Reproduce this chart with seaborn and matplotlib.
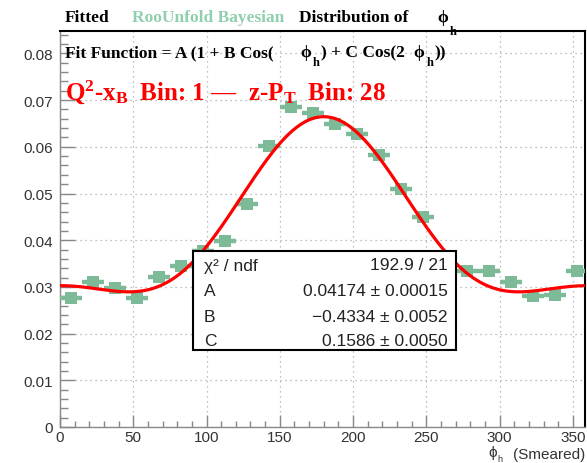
import numpy as np
import pandas as pd
import matplotlib
matplotlib.use("Agg")
import matplotlib.pyplot as plt
import seaborn as sns
from matplotlib.patches import Rectangle
from matplotlib.ticker import FixedLocator, MultipleLocator

# ---------------- data ----------------
phi_h = [7.5, 22.5, 37.5, 52.5, 67.5, 82.5, 97.5, 112.5, 127.5, 142.5, 157.5, 172.5,
         187.5, 202.5, 217.5, 232.5, 247.5, 262.5, 277.5, 292.5, 307.5, 322.5, 337.5, 352.5]
counts = [0.0276, 0.0310, 0.0298, 0.0276, 0.0321, 0.0345, 0.0377, 0.0398, 0.0477, 0.0602,
          0.0685, 0.0672, 0.0649, 0.0627, 0.0582, 0.0510, 0.0450, 0.0366, 0.0335, 0.0334,
          0.0310, 0.0281, 0.0283, 0.0334]
bin_half_width = 7.5
fit_A, fit_B, fit_C = 0.04174, -0.4334, 0.1586
stats_labels = ["\u03c7\u00b2 / ndf", "A", "B", "C"]
stats_values = ["192.9 / 21", "0.04174 \u00b1 0.00015", "\u22120.4334 \u00b1 0.0052", "0.1586 \u00b1 0.0050"]
x_ticks = [0, 50, 100, 150, 200, 250, 300, 350]
x_ticklabels = ["0", "50", "100", "150", "200", "250", "300", "350"]
y_ticks = [0, 0.01, 0.02, 0.03, 0.04, 0.05, 0.06, 0.07, 0.08]
y_ticklabels = ["0", "0.01", "0.02", "0.03", "0.04", "0.05", "0.06", "0.07", "0.08"]

df = pd.DataFrame({"phi": phi_h, "val": counts})
phi_fine = np.linspace(0, 360, 721)
fit_df = pd.DataFrame({"phi": phi_fine,
                       "fit": fit_A * (1 + fit_B * np.cos(np.radians(phi_fine))
                                       + fit_C * np.cos(2 * np.radians(phi_fine)))})

# ---------------- style ----------------
sns.set_theme(style="white")
plt.rcParams["font.family"] = ["Liberation Sans", "DejaVu Sans"]
plt.rcParams["mathtext.fontset"] = "custom"
plt.rcParams["mathtext.rm"] = "Liberation Serif:bold"
plt.rcParams["mathtext.it"] = "Liberation Serif:bold"
plt.rcParams["mathtext.bf"] = "Liberation Serif:bold"

W, H = 587, 464
fig = plt.figure(figsize=(W / 100, H / 100), dpi=100)
fig.patch.set_facecolor("white")
renderer = fig.canvas.get_renderer()

def fx(px):
    return px / W

def fy(py):
    return 1 - py / H

def put(x_px, y_px, s, **kw):
    t = fig.text(fx(x_px), fy(y_px), s, **kw)
    bb = t.get_window_extent(renderer)
    return bb.x1

ax_l, ax_r, ax_t, ax_b = 60, 585, 32, 428
ax = fig.add_axes([fx(ax_l), fy(ax_b), (ax_r - ax_l) / W, (ax_b - ax_t) / H])
ax.set_facecolor("white")

GREEN = "#7dbb98"
TITLE_GREEN = "#8fcfae"

ax.errorbar(df["phi"], df["val"], xerr=bin_half_width, fmt="none",
            ecolor=GREEN, elinewidth=3.2, capsize=0, zorder=3)
sns.scatterplot(data=df, x="phi", y="val", marker="s", s=72, color=GREEN,
                linewidth=0, ax=ax, zorder=4, legend=False)
sns.lineplot(data=fit_df, x="phi", y="fit", color="#ff0000", linewidth=2.3,
             ax=ax, zorder=5, legend=False)

ax.set_xlim(0, 358.3)
ax.set_ylim(0, 0.0848)
ax.xaxis.set_major_locator(FixedLocator(x_ticks))
ax.set_xticklabels(x_ticklabels)
ax.yaxis.set_major_locator(FixedLocator(y_ticks))
ax.set_yticklabels(y_ticklabels)
ax.xaxis.set_minor_locator(MultipleLocator(10))
ax.yaxis.set_minor_locator(MultipleLocator(0.002))
ax.tick_params(axis="x", which="major", direction="in", length=9, width=1,
               color="#888888", labelsize=11, labelcolor="#333333", pad=2,
               bottom=True, top=False)
ax.tick_params(axis="x", which="minor", direction="in", length=4.5, width=1,
               color="#888888", bottom=True, top=False)
ax.tick_params(axis="y", which="major", direction="in", length=11, width=1,
               color="#888888", labelsize=11, labelcolor="#333333", pad=5,
               left=True, right=False)
ax.tick_params(axis="y", which="minor", direction="in", length=5.5, width=1,
               color="#888888", left=True, right=False)
ax.grid(True, which="major", linestyle=(0, (1, 3)), color="#aaaaaa", linewidth=0.9)
for s in ["left", "bottom"]:
    ax.spines[s].set_color("#888888")
    ax.spines[s].set_linewidth(1.0)
for s in ["top", "right"]:
    ax.spines[s].set_color("black")
    ax.spines[s].set_linewidth(1.5)
ax.set_xlabel("")
ax.set_ylabel("")

# x axis label: phi_h (Smeared)
xl = dict(fontsize=11, color="#333333", va="baseline")
put(585, 459, "(Smeared)", ha="right", **xl)
put(488, 457, "\u03d5", ha="left", **xl)
put(497, 462, "h", ha="left", fontsize=6.5, color="#333333", va="baseline")

# ---------------- titles ----------------
serif = "Liberation Serif"
tfont = dict(family=serif, weight="bold", fontsize=12.5, va="baseline")
put(65, 22, "Fitted", color="black", **tfont)
put(132, 22, "RooUnfold Bayesian", color=TITLE_GREEN, **tfont)
put(299, 22, "Distribution of", color="black", **tfont)
e = put(437, 22, r"$\phi$", color="black", **tfont)
put(e + 1, 35, "h", color="black", family=serif, weight="bold", fontsize=9, va="baseline")

# fit function line
e = put(65, 57, "Fit Function = A (1 + B Cos(", color="black", **tfont)
e = put(e + 26, 57, r"$\phi$", color="black", **tfont)
e = put(e + 1, 66, "h", color="black", family=serif, weight="bold", fontsize=9, va="baseline")
e = put(e + 1, 57, ") + C Cos(2", color="black", **tfont)
e = put(e + 9, 57, r"$\phi$", color="black", **tfont)
e = put(e + 1, 66, "h", color="black", family=serif, weight="bold", fontsize=9, va="baseline")
put(e + 1, 57, "))", color="black", **tfont)

# red bin label
rfont = dict(family=serif, weight="bold", fontsize=18, va="baseline", color="#ff0000")
put(65, 100, "Q$^{2}$-x$_{B}$  Bin: 1 \u2014  z-P$_{T}$  Bin: 28", **rfont)

# ---------------- stats box ----------------
bx0, by0, bx1, by1 = 193, 252, 456, 351
box = Rectangle((fx(bx0), fy(by1)), (bx1 - bx0) / W, (by1 - by0) / H,
                transform=fig.transFigure, facecolor="white", edgecolor="black",
                linewidth=1.5, zorder=10)
fig.add_artist(box)
row_y = [266, 292, 317, 342]
for lab, val, yy in zip(stats_labels, stats_values, row_y):
    fig.text(fx(204), fy(yy), lab, ha="left", va="center", fontsize=12.5,
             color="#222222", zorder=11)
    fig.text(fx(448), fy(yy), val, ha="right", va="center", fontsize=12.5,
             color="#222222", zorder=11)

fig.savefig("out.png", dpi=100, facecolor="white")
